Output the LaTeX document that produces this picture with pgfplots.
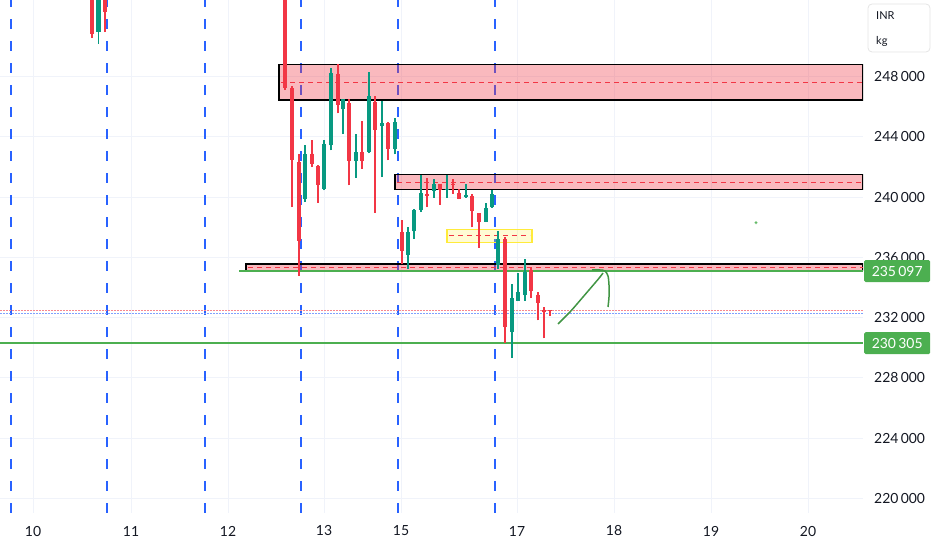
\documentclass[border=0pt]{standalone}
\usepackage{pgfplots}
\pgfplotsset{compat=1.18}
\usepackage{fontspec}
\setmainfont{Lato}
\definecolor{tvred}{HTML}{F23645}
\definecolor{tvgreen}{HTML}{089981}
\definecolor{gridc}{HTML}{F0F3FA}
\definecolor{tvblue}{HTML}{2962FF}
\definecolor{lgreen}{HTML}{4CAF50}
\definecolor{txt}{HTML}{131722}
\definecolor{yel}{HTML}{FFEB3B}
\begin{document}
\begin{tikzpicture}
\begin{axis}[
  at={(0,0)}, anchor=south west,
  scale only axis, width=863bp, height=513bp,
  xmin=0, xmax=863, ymin=219029, ymax=253093,
  axis line style={draw=none},
  clip mode=individual,
  scaled y ticks=false, scaled x ticks=false,
  xtick={33,131,228,324,401,517,614,711,808},
  xticklabels={10,11,12,13,15,17,18,19,20},
  ytick={220000,224000,228000,232000,236000,240000,244000,248000},
  yticklabels={220\,000,224\,000,228\,000,232\,000,236\,000,240\,000,244\,000,248\,000},
  yticklabel pos=right,
  major tick length=0pt,
  tick style={draw=none},
  grid=major, major grid style={color=gridc, line width=1bp},
  ticklabel style={font=\fontsize{14}{16}\selectfont, text=txt},
  xticklabel style={anchor=center, yshift=-18bp},
  yticklabel style={anchor=west, xshift=11bp, inner sep=0pt},
  unbounded coords=jump, no markers,
]
% session separators
\addplot[tvblue, line width=1.6bp, dash pattern=on 10bp off 12bp] coordinates {
 (11,219029) (11,253093) (11,nan)
 (107,219029) (107,253093) (107,nan)
 (205,219029) (205,253093) (205,nan)
 (301,219029) (301,253093) (301,nan)
 (398,219029) (398,253093) (398,nan)
 (495,219029) (495,253093)};
% zones
\addplot[draw=black, line width=1.2bp, fill=tvred, fill opacity=0.35] coordinates {(279,248827) (863,248827) (863,246447) (279,246447)} -- cycle;
\addplot[draw=black, line width=1.2bp, fill=tvred, fill opacity=0.35] coordinates {(395,241493) (863,241493) (863,240493) (395,240493)} -- cycle;
\addplot[draw=black, line width=1.2bp, fill=tvred, fill opacity=0.35] coordinates {(246,235560) (863,235560) (863,235140) (246,235140)} -- cycle;
\addplot[draw=yel, line width=1.5bp, fill=yel, fill opacity=0.22] coordinates {(447,237847) (532,237847) (532,237000) (447,237000)} -- cycle;
\addplot[tvred, line width=1.2bp, dash pattern=on 5bp off 4bp] coordinates {
 (281,247627) (863,247627) (281,nan)
 (397,241000) (863,241000) (397,nan)
 (248,235333) (863,235333) (248,nan)
 (449,237467) (530,237467)};
% price lines
\addplot[tvred!60, line width=1bp, dash pattern=on 1.5bp off 1.5bp] coordinates {(0,232447) (863,232447)};
\addplot[tvblue!60, line width=1bp, dash pattern=on 1.5bp off 1.5bp] coordinates {(0,232247) (863,232247)};
\addplot[lgreen, line width=1.6bp] coordinates {(239,235097) (863,235097)};
\addplot[lgreen, line width=1.6bp] coordinates {(0,230305) (863,230305)};
% red wicks
\addplot[tvred, line width=1.2bp] coordinates {
(92,250580) (92,255000) (92,nan)
(105,250960) (105,255000) (105,nan)
(285,247100) (285,255000) (285,nan)
(292,239333) (292,247400) (292,nan)
(299,234780) (299,242893) (299,nan)
(312,242000) (312,243780) (312,nan)
(318,239627) (318,242113) (318,nan)
(338,245560) (338,248847) (338,nan)
(349,240780) (349,246513) (349,nan)
(362,241893) (362,245067) (362,nan)
(375,238960) (375,246733) (375,nan)
(388,242447) (388,245000) (388,nan)
(402,235560) (402,238493) (402,nan)
(427,239333) (427,241293) (427,nan)
(440,239513) (440,240900) (440,nan)
(453,240227) (453,241227) (453,nan)
(459,239850) (459,240560) (459,nan)
(472,238000) (472,240227) (472,nan)
(479,236627) (479,238950) (479,nan)
(505,230333) (505,237380) (505,nan)
(531,233293) (531,235333) (531,nan)
(538,231827) (538,233733) (538,nan)
(544,230627) (544,232733) (544,nan)
(550,232113) (550,232513)};
% red bodies
\addplot[tvred, line width=4.6bp] coordinates {
(92,254500) (92,250847) (92,nan)
(105,254500) (105,252293) (105,nan)
(285,254500) (285,247227) (285,nan)
(292,247227) (292,242447) (292,nan)
(299,242333) (299,237113) (299,nan)
(312,242893) (312,242227) (312,nan)
(318,242067) (318,240780) (318,nan)
(338,248180) (338,246113) (338,nan)
(349,246227) (349,242400) (349,nan)
(362,243000) (362,242400) (362,nan)
(375,246293) (375,244447) (375,nan)
(388,244933) (388,243227) (388,nan)
(402,237667) (402,236400) (402,nan)
(427,240227) (427,240067) (427,nan)
(440,240893) (440,240493) (440,nan)
(453,240893) (453,240780) (453,nan)
(459,240293) (459,239893) (459,nan)
(472,240047) (472,239113) (472,nan)
(479,238933) (479,238380) (479,nan)
(505,237227) (505,231380) (505,nan)
(531,235160) (531,233780) (531,nan)
(538,233513) (538,233000) (538,nan)
(544,232513) (544,232400) (544,nan)
(550,232513) (550,232447)};
% green wicks
\addplot[tvgreen, line width=1.2bp] coordinates {
(98.5,250180) (98.5,255000) (98.5,nan)
(305,239667) (305,243447) (305,nan)
(324,240447) (324,243780) (324,nan)
(331,243113) (331,248560) (331,nan)
(343,244180) (343,246513) (343,nan)
(356,241293) (356,244180) (356,nan)
(369,242900) (369,248333) (369,nan)
(382,241333) (382,246380) (382,nan)
(395,242847) (395,245227) (395,nan)
(408,235227) (408,238000) (408,nan)
(414,237227) (414,239227) (414,nan)
(421,239000) (421,241447) (421,nan)
(434,239960) (434,241227) (434,nan)
(447,239960) (447,241447) (447,nan)
(466,239950) (466,240847) (466,nan)
(486,238350) (486,239600) (486,nan)
(492,239300) (492,240447) (492,nan)
(498,235227) (498,237780) (498,nan)
(512,229333) (512,234227) (512,nan)
(518,233100) (518,234933) (518,nan)
(525,233113) (525,235893)};
% green bodies
\addplot[tvgreen, line width=4.6bp] coordinates {
(98.5,250980) (98.5,254500) (98.5,nan)
(305,239893) (305,242893) (305,nan)
(324,240560) (324,243560) (324,nan)
(331,243447) (331,248227) (331,nan)
(343,245827) (343,246493) (343,nan)
(356,242400) (356,243000) (356,nan)
(369,243000) (369,246713) (369,nan)
(382,244713) (382,244933) (382,nan)
(395,243227) (395,244960) (395,nan)
(408,236180) (408,237667) (408,nan)
(414,237733) (414,239160) (414,nan)
(421,239160) (421,240293) (421,nan)
(434,240400) (434,240847) (434,nan)
(447,240493) (447,240560) (447,nan)
(466,240000) (466,240113) (466,nan)
(486,238380) (486,239293) (486,nan)
(492,239333) (492,240180) (492,nan)
(498,235513) (498,237227) (498,nan)
(512,231067) (512,233333) (512,nan)
(518,233113) (518,233733) (518,nan)
(525,233493) (525,235000)};
% hand-drawn annotation
\addplot[lgreen!85!black, line width=1.5bp, smooth] coordinates {
(558,231579) (564,231977) (570,232376) (577,232907) (583,233372) (589,233837) (595,234302) (600,234700) (603,234966)};
\addplot[lgreen!85!black, line width=1.5bp, smooth] coordinates {
(592,235165) (600,235165) (605,235098) (608,234766) (609,234169) (609,233372) (608,232708)};
\addplot[only marks, mark=square*, mark size=1.3bp, lgreen, mark options={draw=lgreen!60}] coordinates {(756,238305)};
\coordinate (b1) at (axis cs:863,235097);
\coordinate (b2) at (axis cs:863,230305);
\end{axis}
\node[fill=lgreen, text=white, font=\fontsize{14}{16}\selectfont, minimum height=22bp, minimum width=66bp, inner sep=0pt, anchor=west, rounded corners=1.5bp] at ([xshift=1bp]b1) {235\,097};
\node[fill=lgreen, text=white, font=\fontsize{14}{16}\selectfont, minimum height=22bp, minimum width=66bp, inner sep=0pt, anchor=west, rounded corners=1.5bp] at ([xshift=1bp]b2) {230\,305};
\draw[gray!20, fill=white, rounded corners=4bp, line width=0.8bp] (868bp,461bp) rectangle (930bp,509bp);
\node[anchor=west, inner sep=0pt, text=txt, font=\fontsize{11}{13}\selectfont] at (876bp,497bp) {INR};
\node[anchor=west, inner sep=0pt, text=txt, font=\fontsize{11}{13}\selectfont] at (876bp,472bp) {kg};
\pgfresetboundingbox
\path[use as bounding box] (0,-37bp) rectangle (932bp,513bp);
\end{tikzpicture}
\end{document}
